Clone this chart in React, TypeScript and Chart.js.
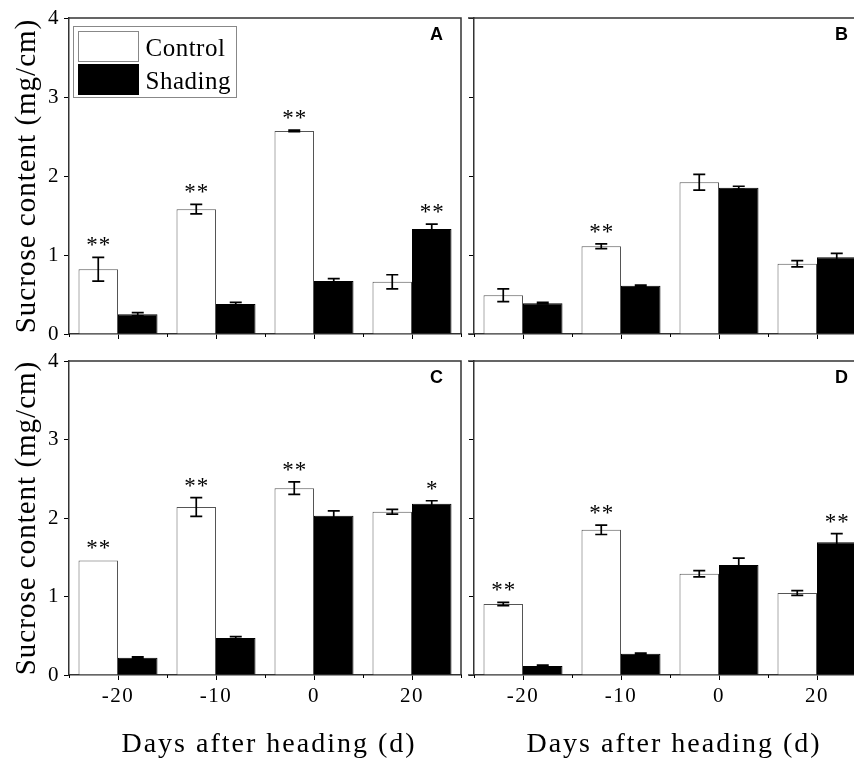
import React, { useEffect, useRef } from 'react';
import { Chart, registerables } from 'chart.js';

Chart.register(...registerables);

// ---------- data ----------
const categories = ['-20', '-10', '0', '20'];
const seriesNames = ['Control', 'Shading'];
const yTitle = 'Sucrose content (mg/cm)';
const xTitle = 'Days after heading (d)';
const yMin = 0;
const yMax = 4;
const yStep = 1;

// Panel A
const aControl = [0.82, 1.58, 2.57, 0.66];
const aControlErr = [0.15, 0.06, 0.01, 0.09];
const aShading = [0.25, 0.38, 0.67, 1.33];
const aShadingErr = [0.02, 0.02, 0.03, 0.06];
const aControlSig = ['**', '**', '**', ''];
const aShadingSig = ['', '', '', '**'];

// Panel B
const bControl = [0.49, 1.11, 1.92, 0.89];
const bControlErr = [0.08, 0.03, 0.1, 0.04];
const bShading = [0.39, 0.61, 1.85, 0.97];
const bShadingErr = [0.01, 0.01, 0.02, 0.05];
const bControlSig = ['', '**', '', ''];
const bShadingSig = ['', '', '', ''];

// Panel C
const cControl = [1.46, 2.14, 2.38, 2.08];
const cControlErr = [0, 0.12, 0.08, 0.03];
const cShading = [0.22, 0.47, 2.03, 2.18];
const cShadingErr = [0.01, 0.02, 0.06, 0.04];
const cControlSig = ['**', '**', '**', ''];
const cShadingSig = ['', '', '', '*'];

// Panel D
const dControl = [0.905, 1.85, 1.29, 1.045];
const dControlErr = [0.02, 0.06, 0.04, 0.03];
const dShading = [0.115, 0.27, 1.4, 1.69];
const dShadingErr = [0.01, 0.01, 0.09, 0.11];
const dControlSig = ['**', '**', '', ''];
const dShadingSig = ['', '', '', '**'];

// ---------- styling ----------
const SERIF = "'Liberation Serif', 'Times New Roman', Times, serif";
const SANS = "'Liberation Sans', Arial, Helvetica, sans-serif";
const AXIS_COLOR = '#333';

type PanelDef = {
  letter: string;
  control: number[];
  controlErr: number[];
  shading: number[];
  shadingErr: number[];
  controlSig: string[];
  shadingSig: string[];
  showY: boolean;
  showX: boolean;
  showLegend: boolean;
  extendFrame: boolean;
  left: number;
  top: number;
  width: number;
  height: number;
  padTop: number;
  padRight: number;
  yWidth: number;
  xHeight: number;
};

const panels: PanelDef[] = [
  {
    letter: 'A', control: aControl, controlErr: aControlErr, shading: aShading, shadingErr: aShadingErr,
    controlSig: aControlSig, shadingSig: aShadingSig, showY: true, showX: false, showLegend: true, extendFrame: false,
    left: 0, top: 0, width: 466, height: 349, padTop: 18, padRight: 5, yWidth: 69, xHeight: 15,
  },
  {
    letter: 'B', control: bControl, controlErr: bControlErr, shading: bShading, shadingErr: bShadingErr,
    controlSig: bControlSig, shadingSig: bShadingSig, showY: false, showX: false, showLegend: false, extendFrame: true,
    left: 466, top: 0, width: 410, height: 345, padTop: 18, padRight: 10, yWidth: 8, xHeight: 11,
  },
  {
    letter: 'C', control: cControl, controlErr: cControlErr, shading: cShading, shadingErr: cShadingErr,
    controlSig: cControlSig, shadingSig: cShadingSig, showY: true, showX: true, showLegend: false, extendFrame: false,
    left: 0, top: 345, width: 466, height: 415, padTop: 16, padRight: 5, yWidth: 69, xHeight: 85,
  },
  {
    letter: 'D', control: dControl, controlErr: dControlErr, shading: dShading, shadingErr: dShadingErr,
    controlSig: dControlSig, shadingSig: dShadingSig, showY: false, showX: true, showLegend: false, extendFrame: true,
    left: 466, top: 345, width: 410, height: 415, padTop: 16, padRight: 10, yWidth: 8, xHeight: 85,
  },
];

function makeDecorPlugin(p: PanelDef) {
  const errs = [p.controlErr, p.shadingErr];
  const sigs = [p.controlSig, p.shadingSig];
  return {
    id: 'panelDecor',
    beforeDraw(chart: any) {
      chart.ctx.letterSpacing = '1.5px';
    },
    afterDatasetsDraw(chart: any) {
      const ctx = chart.ctx;
      const ys = chart.scales.y;
      chart.data.datasets.forEach((ds: any, di: number) => {
        const meta = chart.getDatasetMeta(di);
        meta.data.forEach((el: any, j: number) => {
          const v = ds.data[j];
          const e = errs[di][j];
          const x = el.x;
          const yt = ys.getPixelForValue(v + e);
          const yb = ys.getPixelForValue(v - e);
          if (e > 0) {
            ctx.save();
            ctx.strokeStyle = '#000';
            ctx.lineWidth = 1.7;
            ctx.beginPath();
            ctx.moveTo(x, yt);
            ctx.lineTo(x, yb);
            ctx.moveTo(x - 6, yt);
            ctx.lineTo(x + 6, yt);
            ctx.moveTo(x - 6, yb);
            ctx.lineTo(x + 6, yb);
            ctx.stroke();
            ctx.restore();
          }
          const s = sigs[di][j];
          if (s) {
            ctx.save();
            ctx.font = `23px ${SERIF}`;
            ctx.letterSpacing = '1px';
            ctx.textAlign = 'center';
            ctx.textBaseline = 'alphabetic';
            ctx.fillStyle = '#000';
            ctx.fillText(s, x + 0.5, yt - 5);
            ctx.restore();
          }
        });
      });
    },
    afterDraw(chart: any) {
      const ctx = chart.ctx;
      const a = chart.chartArea;
      const xs = chart.scales.x;
      ctx.save();
      // top and right frame lines
      ctx.strokeStyle = AXIS_COLOR;
      ctx.lineWidth = 1.5;
      const ext = p.extendFrame ? 6 : 0;
      ctx.beginPath();
      ctx.moveTo(a.left - ext, a.top);
      ctx.lineTo(a.right, a.top);
      ctx.lineTo(a.right, a.bottom);
      if (ext) {
        ctx.moveTo(a.left - ext, a.bottom);
        ctx.lineTo(a.left, a.bottom);
      }
      ctx.stroke();
      // minor ticks between categories
      ctx.strokeStyle = '#000';
      ctx.lineWidth = 1;
      ctx.beginPath();
      for (let i = 0; i <= categories.length; i++) {
        const x = Math.round(xs.getPixelForValue(i - 0.5)) + 0.5;
        ctx.moveTo(x, a.bottom);
        ctx.lineTo(x, a.bottom + 3);
      }
      ctx.stroke();

      // panel letter
      ctx.letterSpacing = '0px';
      ctx.fillStyle = '#000';
      ctx.font = `bold 18px ${SANS}`;
      ctx.textAlign = 'right';
      ctx.textBaseline = 'top';
      ctx.fillText(p.letter, a.right - 18, a.top + 8);

      // y title
      if (p.showY) {
        ctx.save();
        ctx.font = `29px ${SERIF}`;
        ctx.letterSpacing = '1px';
        ctx.textAlign = 'center';
        ctx.textBaseline = 'alphabetic';
        ctx.translate(35, (a.top + a.bottom) / 2);
        ctx.rotate(-Math.PI / 2);
        ctx.fillText(yTitle, 0, 0);
        ctx.restore();
      }
      // x title
      if (p.showX) {
        ctx.save();
        ctx.font = `28px ${SERIF}`;
        ctx.letterSpacing = '2px';
        ctx.textAlign = 'center';
        ctx.textBaseline = 'alphabetic';
        ctx.fillText(xTitle, (a.left + a.right) / 2 + 4, a.bottom + 77);
        ctx.restore();
      }
      // legend
      if (p.showLegend) {
        const bx = a.left + 4.5;
        const by = a.top + 8.5;
        ctx.strokeStyle = '#888';
        ctx.lineWidth = 1;
        ctx.strokeRect(bx, by, 163, 71);
        const fills = chart.data.datasets.map((d: any) => d.backgroundColor);
        const borders = chart.data.datasets.map((d: any) => d.borderColor);
        const rows = [5, 38];
        ctx.font = `25px ${SERIF}`;
        ctx.letterSpacing = '0.5px';
        ctx.textAlign = 'left';
        ctx.textBaseline = 'alphabetic';
        seriesNames.forEach((name, i) => {
          ctx.fillStyle = fills[i];
          ctx.fillRect(bx + 5, by + rows[i], 60, 30);
          ctx.strokeStyle = i === 0 ? '#888' : borders[i];
          ctx.strokeRect(bx + 5, by + rows[i], 60, 30);
          ctx.fillStyle = '#000';
          ctx.fillText(name, bx + 72, by + rows[i] + 24);
        });
      }
      ctx.restore();
    },
  };
}

function Panel({ p }: { p: PanelDef }) {
  const ref = useRef<HTMLCanvasElement | null>(null);
  useEffect(() => {
    if (!ref.current) return;
    const chart = new Chart(ref.current, {
      type: 'bar',
      data: {
        labels: categories,
        datasets: [
          {
            label: seriesNames[0],
            data: p.control,
            backgroundColor: '#ffffff',
            borderColor: '#555555',
            borderWidth: 1,
          },
          {
            label: seriesNames[1],
            data: p.shading,
            backgroundColor: '#000000',
            borderColor: '#000000',
            borderWidth: 1,
          },
        ],
      },
      options: {
        animation: false,
        responsive: false,
        maintainAspectRatio: false,
        devicePixelRatio: 1,
        events: [],
        layout: { padding: { left: 0, top: p.padTop, right: p.padRight, bottom: 0 } },
        datasets: { bar: { barPercentage: 1, categoryPercentage: 0.806 } },
        plugins: {
          legend: { display: false },
          tooltip: { enabled: false },
          title: { display: false },
        },
        scales: {
          x: {
            type: 'category',
            offset: true,
            grid: {
              display: true,
              offset: false,
              drawOnChartArea: false,
              drawTicks: true,
              tickLength: 5,
              color: '#000',
              lineWidth: 1,
            },
            border: { display: true, color: AXIS_COLOR, width: 1.5 },
            ticks: {
              display: p.showX,
              color: '#000',
              font: { family: SERIF, size: 21, lineHeight: 1 },
              padding: 6,
              maxRotation: 0,
              autoSkip: false,
            },
            afterFit: (s: any) => {
              s.height = p.xHeight;
            },
          },
          y: {
            type: 'linear',
            min: yMin,
            max: yMax,
            grid: {
              display: true,
              drawOnChartArea: false,
              drawTicks: true,
              tickLength: 5,
              color: '#000',
              lineWidth: 1,
            },
            border: { display: true, color: AXIS_COLOR, width: 1.5 },
            ticks: {
              display: p.showY,
              stepSize: yStep,
              color: '#000',
              font: { family: SERIF, size: 21, lineHeight: 1 },
              padding: 4,
            },
            afterFit: (s: any) => {
              s.width = p.yWidth;
            },
          },
        },
      } as any,
      plugins: [makeDecorPlugin(p)],
    });
    return () => chart.destroy();
  }, [p]);
  return (
    <canvas
      ref={ref}
      width={p.width}
      height={p.height}
      style={{ position: 'absolute', left: p.left, top: p.top, width: p.width, height: p.height }}
    />
  );
}

export default function App() {
  return (
    <div
      style={{
        position: 'absolute',
        left: 0,
        top: 0,
        width: 854,
        height: 760,
        overflow: 'hidden',
        background: '#fff',
      }}
    >
      {panels.map((p) => (
        <Panel key={p.letter} p={p} />
      ))}
    </div>
  );
}
